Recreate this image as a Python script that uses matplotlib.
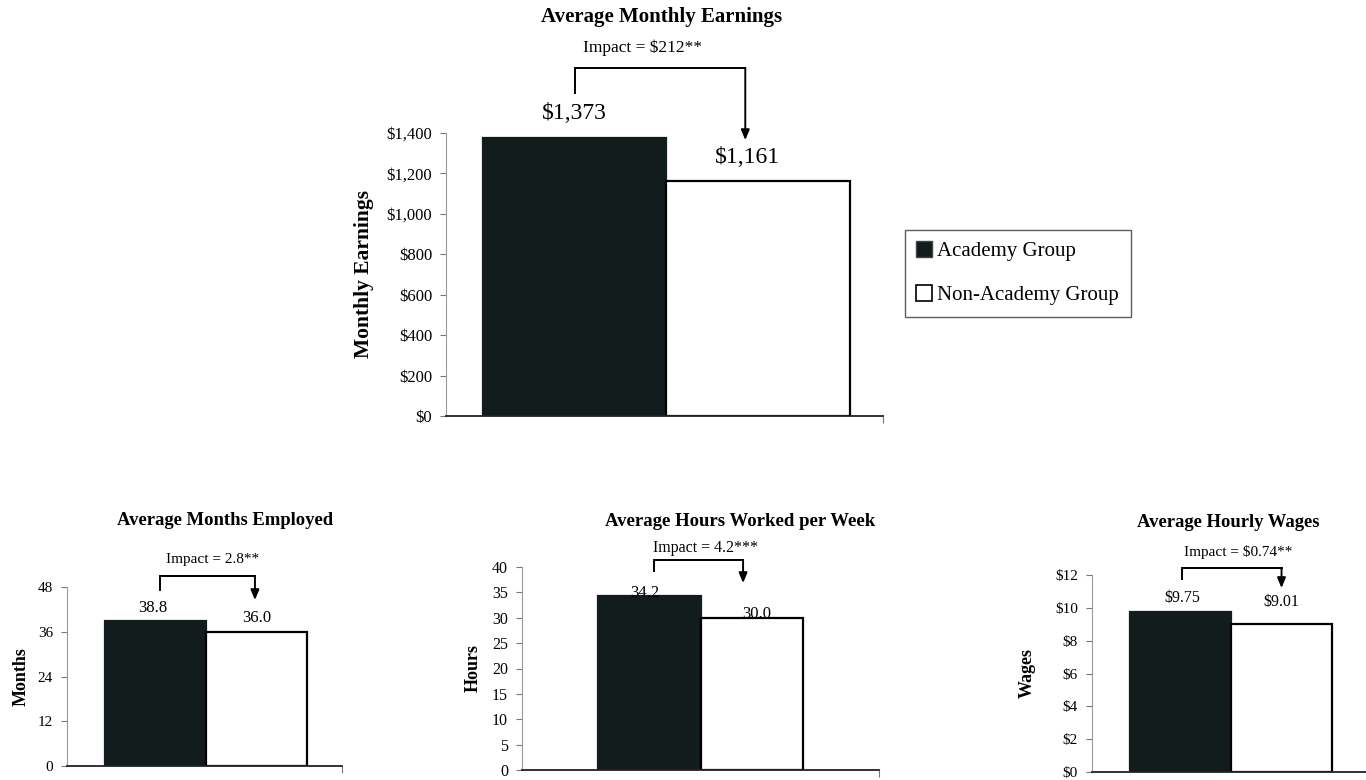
import matplotlib
matplotlib.use('Agg')
import matplotlib.pyplot as plt
from matplotlib.patches import Patch


# Outcome values (academy group, non-academy group)
GROUPS = ['Academy Group', 'Non-Academy Group']

EARNINGS = [1373, 1161]
MONTHS = [38.8, 36.0]
HOURS = [34.2, 30.0]
WAGES = [9.75, 9.01]

# significance stars for each impact estimate
EARNINGS_STARS = '**'
MONTHS_STARS = '**'
HOURS_STARS = '***'
WAGES_STARS = '**'

EARNINGS_TICKS = [0, 200, 400, 600, 800, 1000, 1200, 1400]
MONTHS_TICKS = [0, 12, 24, 36, 48]
HOURS_TICKS = [0, 5, 10, 15, 20, 25, 30, 35, 40]
WAGES_TICKS = [0, 2, 4, 6, 8, 10, 12]

DARK = '#121c1c'
W, H = 1366, 780

plt.rcParams['font.family'] = ['Liberation Serif', 'DejaVu Serif']


def money0(v):
    return f'${v:,.0f}'


def money2(v):
    return f'${v:.2f}'


def num1(v):
    return f'{v:.1f}'


def plain(v):
    return f'{v:g}'


def px_rect(x0, x1, y_top, y_bot):
    """Axes rectangle from pixel edges (origin top-left)."""
    return [x0 / W, 1 - y_bot / H, (x1 - x0) / W, (y_bot - y_top) / H]


PANELS = [
    dict(title='Average Monthly Earnings', ylabel='Monthly Earnings',
         values=EARNINGS, stars=EARNINGS_STARS, ticks=EARNINGS_TICKS,
         tickfmt=money0, valfmt=money0, impfmt=money0,
         rect=px_rect(446, 883, 133, 416), xlim=(-0.70, 1.68),
         title_xy=(0.475, 1.41), imp_xy=(0.37, 1.30),
         bracket=(0.0, 0.93, 1.141, 1.230, 0.975),
         lab_dx=[0.0, -0.06], lab_dy=[25, 24], ylab_x=-0.164,
         fs_title=15, fs_imp=12.5, fs_val=17, fs_tick=12, fs_ylab=15.5),
    dict(title='Average Months Employed', ylabel='Months',
         values=MONTHS, stars=MONTHS_STARS, ticks=MONTHS_TICKS,
         tickfmt=plain, valfmt=num1, impfmt=num1,
         rect=px_rect(67, 342, 587, 766), xlim=(-0.876, 1.847),
         title_xy=(0.69, 1.374), imp_xy=(0.57, 1.151),
         bracket=(0.045, 0.985, 0.983, 1.061, 0.927),
         lab_dx=[-0.025, 0.0], lab_dy=[13, 14], ylab_x=-0.135,
         fs_title=13.4, fs_imp=11, fs_val=12, fs_tick=11, fs_ylab=13),
    dict(title='Average Hours Worked per Week', ylabel='Hours',
         values=HOURS, stars=HOURS_STARS, ticks=HOURS_TICKS,
         tickfmt=plain, valfmt=num1, impfmt=num1,
         rect=px_rect(522, 879, 567, 770), xlim=(-1.24, 2.24),
         title_xy=(0.885, 1.222), imp_xy=(0.55, 1.094),
         bracket=(0.046, 0.915, 0.980, 1.034, 0.921),
         lab_dx=[-0.04, 0.05], lab_dy=[3, 4], ylab_x=-0.112,
         fs_title=13.5, fs_imp=11.5, fs_val=12, fs_tick=11.5, fs_ylab=13),
    dict(title='Average Hourly Wages', ylabel='Wages',
         values=WAGES, stars=WAGES_STARS, ticks=WAGES_TICKS,
         tickfmt=lambda v: f'${v:g}', valfmt=money2, impfmt=money2,
         rect=px_rect(1092, 1368, 575, 772), xlim=(-0.876, 1.856),
         title_xy=(0.47, 1.269), imp_xy=(0.57, 1.117),
         bracket=(0.015, 1.0, 0.980, 1.036, 0.934),
         lab_dx=[0.015, 0.0], lab_dy=[14, 22], ylab_x=-0.203,
         fs_title=13.4, fs_imp=11, fs_val=11.5, fs_tick=11, fs_ylab=13),
]


def draw_panel(fig, p):
    ax = fig.add_axes(p['rect'])
    vals = p['values']
    xs = [0, 1]
    ax.bar(xs, vals, width=1.0, color=[DARK, 'white'],
           edgecolor=[DARK, 'black'], linewidth=1.6, zorder=2)

    ax.set_xlim(*p['xlim'])
    ax.set_ylim(p['ticks'][0], p['ticks'][-1])
    ax.set_yticks(p['ticks'])
    ax.set_yticklabels([p['tickfmt'](t) for t in p['ticks']], fontsize=p['fs_tick'])
    # single category tick at the far end of the x axis
    ax.set_xticks([p['xlim'][1]])
    ax.set_xticklabels([''])
    ax.tick_params(axis='y', length=4, width=0.8, color='#777777', pad=6)
    ax.tick_params(axis='x', length=5, width=0.8, color='#777777')

    for side in ['top', 'right']:
        ax.spines[side].set_visible(False)
    ax.spines['left'].set_color('#999999')
    ax.spines['left'].set_linewidth(0.8)
    ax.spines['bottom'].set_color('#222222')
    ax.spines['bottom'].set_linewidth(1.3)

    ax.set_ylabel(p['ylabel'], fontsize=p['fs_ylab'], fontweight='bold')
    ax.yaxis.set_label_coords(p['ylab_x'], 0.5)

    # value labels above the bars
    for x, v, dx, dy in zip(xs, vals, p['lab_dx'], p['lab_dy']):
        ax.annotate(p['valfmt'](v), xy=(x + dx, v), xytext=(0, dy),
                    textcoords='offset pixels', ha='center', va='center',
                    fontsize=p['fs_val'], zorder=3)

    trans = ax.get_xaxis_transform()
    tx, ty = p['title_xy']
    ax.text(tx, ty, p['title'], transform=trans, ha='center', va='center',
            fontsize=p['fs_title'], fontweight='bold')

    impact = vals[0] - vals[1]
    ix, iy = p['imp_xy']
    ax.text(ix, iy, f"Impact = {p['impfmt'](impact)}{p['stars']}",
            transform=trans, ha='center', va='center', fontsize=p['fs_imp'])

    # bracket from the academy bar to an arrow over the comparison bar
    x0, x1, y_low, y_top, y_tip = p['bracket']
    ax.plot([x0, x0, x1], [y_low, y_top, y_top], transform=trans,
            color='black', lw=1.4, clip_on=False, solid_joinstyle='miter')
    ax.annotate('', xy=(x1, y_tip), xycoords=trans, xytext=(x1, y_top),
                textcoords=trans,
                arrowprops=dict(arrowstyle='-|>,head_length=0.6,head_width=0.25',
                                color='black', lw=1.4, shrinkA=0, shrinkB=0))
    return ax


fig = plt.figure(figsize=(W / 100, H / 100), dpi=100)

for p in PANELS:
    draw_panel(fig, p)

handles = [Patch(facecolor=DARK, edgecolor='#444444'),
           Patch(facecolor='white', edgecolor='black', linewidth=1.2)]
leg = fig.legend(handles, GROUPS, loc='upper left',
                 bbox_to_anchor=(905 / W, 1 - 230 / H), fontsize=15,
                 frameon=True, fancybox=False, borderpad=0.55,
                 labelspacing=1.15, handlelength=0.75, handleheight=0.75,
                 handletextpad=0.25, borderaxespad=0)
leg.get_frame().set_edgecolor('#333333')
leg.get_frame().set_linewidth(1.0)

fig.savefig('out.png', dpi=100)
